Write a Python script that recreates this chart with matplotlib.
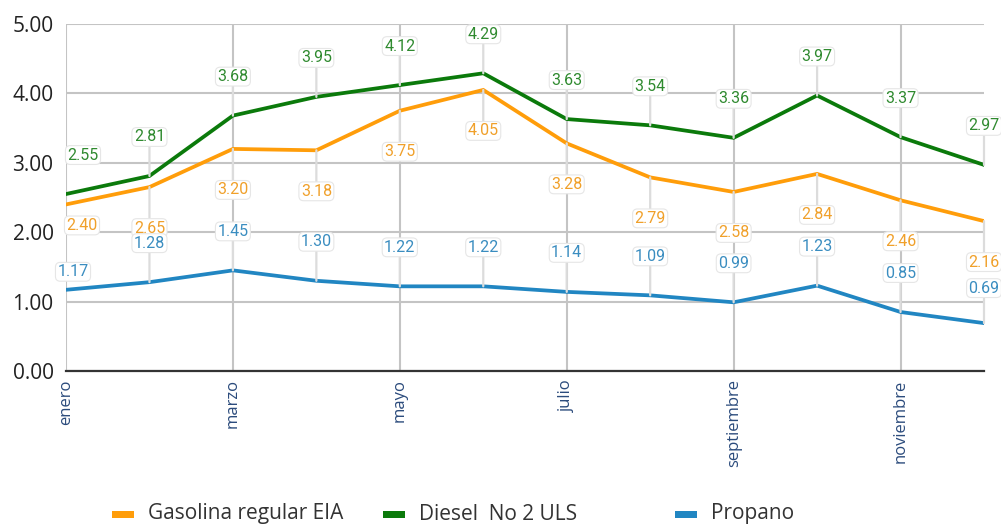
import matplotlib
matplotlib.use("Agg")
import matplotlib.pyplot as plt
from matplotlib.patches import Rectangle

# ---------------------------------------------------------------------------
# Monthly prices (USD/gal)
# ---------------------------------------------------------------------------
meses = ["enero", "febrero", "marzo", "abril", "mayo", "junio", "julio",
         "agosto", "septiembre", "octubre", "noviembre", "diciembre"]
gasolina = [2.40, 2.65, 3.20, 3.18, 3.75, 4.05, 3.28, 2.79, 2.58, 2.84, 2.46, 2.16]
diesel   = [2.55, 2.81, 3.68, 3.95, 4.12, 4.29, 3.63, 3.54, 3.36, 3.97, 3.37, 2.97]
propano  = [1.17, 1.28, 1.45, 1.30, 1.22, 1.22, 1.14, 1.09, 0.99, 1.23, 0.85, 0.69]

nombres = ["Gasolina regular EIA", "Diesel  No 2 ULS", "Propano"]
yticks  = [0, 1, 2, 3, 4, 5]

# label placement (pixel offsets from each point)
off_gas = [(16, -21)] + [(0, -41)] * 11
off_die = [(17, 39)] + [(0, 39)] * 11
off_pro = [(7, 18)] + [(0, 39)] * 10 + [(0, 35)]

# legend entry x positions (pixels): swatch start
leg_x = [112, 383, 675]

C_GAS = "#ff9d0a"
C_DIE = "#0b7a0b"
C_PRO = "#2186c2"
T_GAS = "#f0a02a"
T_DIE = "#2f8a2f"
T_PRO = "#3a8dc0"

plt.rcParams["font.family"] = ["Open Sans", "DejaVu Sans"]

W, H = 1001, 525
fig = plt.figure(figsize=(W / 100, H / 100), dpi=100)
ax = fig.add_axes([66 / W, 1 - 371 / H, (984 - 66) / W, (371 - 24) / H])

x = list(range(len(meses)))
series = [(gasolina, C_GAS, T_GAS, off_gas),
          (diesel, C_DIE, T_DIE, off_die),
          (propano, C_PRO, T_PRO, off_pro)]

for vals, col, tcol, offs in series:
    ax.plot(x, vals, color=col, lw=2.7, solid_joinstyle="miter", zorder=3)

for vals, col, tcol, offs in series:
    for xi, v, (dx, dy) in zip(x, vals, offs):
        # leader line only for labels sitting straight above/below the point
        arrow = None
        if dx == 0:
            arrow = dict(arrowstyle="-", color="#dcdcdc", lw=1.6,
                         shrinkA=0, shrinkB=0)
        ax.annotate(f"{v:.2f}", xy=(xi, v), xytext=(dx, dy),
                    textcoords="offset pixels", ha="center", va="center",
                    fontsize=11.5, family=["Roboto", "DejaVu Sans"], color=tcol,
                    bbox=dict(boxstyle="round,pad=0.12,rounding_size=0.3",
                              fc="white", ec="#e6e6e6", lw=0.8),
                    arrowprops=arrow, zorder=4, annotation_clip=False)

ax.set_xlim(0, 11)
ax.set_ylim(0, 5)
ax.set_yticks(yticks)
ax.set_yticklabels([f"{t:.2f}" for t in yticks])
ax.set_xticks(x[::2])
ax.set_xticklabels(meses[::2], rotation=90, va="top")

ax.grid(True, color="#c4c4c4", lw=1.5)
ax.set_axisbelow(True)
for s in ["left", "right", "top"]:
    ax.spines[s].set_visible(False)
ax.spines["bottom"].set_color("#333333")
ax.spines["bottom"].set_linewidth(1.6)
ax.spines["bottom"].set_zorder(5)

ax.tick_params(axis="y", length=0, pad=9, labelsize=15, labelcolor="#222222")
ax.tick_params(axis="x", length=0, pad=6, labelsize=12, labelcolor="#2b4b7c")

# legend row at the bottom
for px, nombre, col in zip(leg_x, nombres, (C_GAS, C_DIE, C_PRO)):
    fig.patches.append(Rectangle((px / W, 1 - 518 / H), 22 / W, 7 / H,
                                 transform=fig.transFigure, fc=col, ec="none"))
    fig.text((px + 36) / W, 1 - 514 / H, nombre, fontsize=15,
             color="#333333", ha="left", va="center")

fig.savefig("out.png", dpi=100)
